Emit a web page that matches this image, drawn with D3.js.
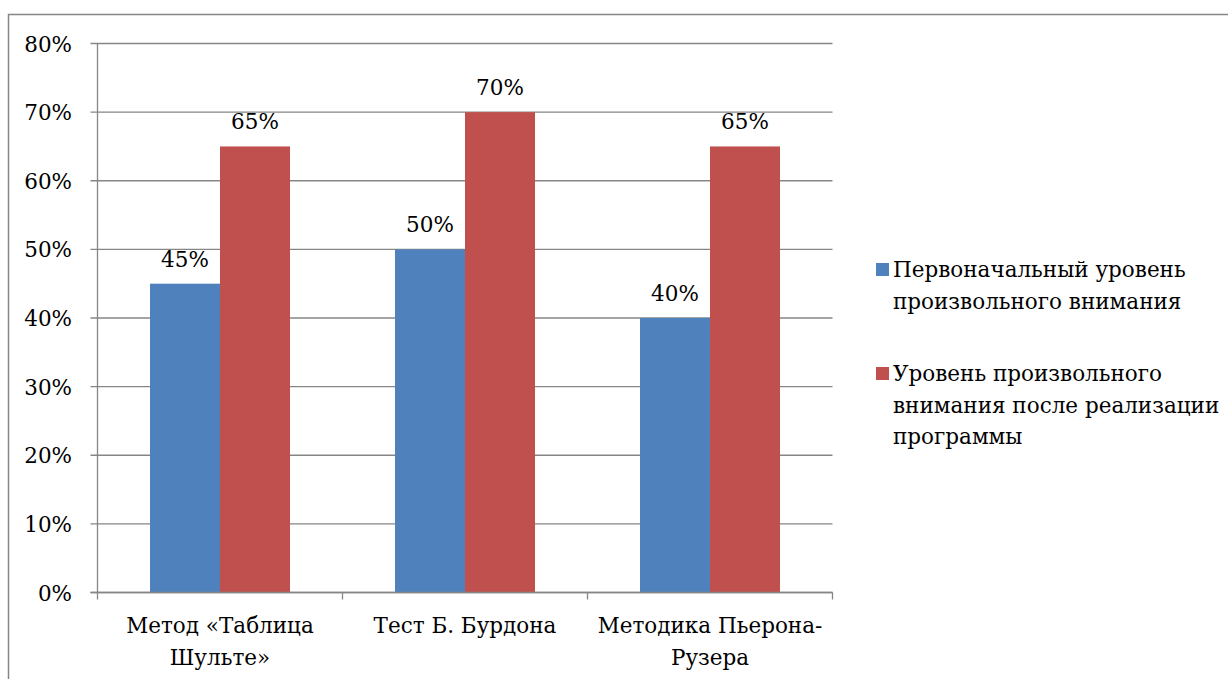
<!DOCTYPE html>
<html>
<meta charset="UTF-8">
<head>
    <script src="https://d3js.org/d3.v7.min.js"></script>
    <style>
        body { margin: 0; background: white; }
        svg text { font-family: "DejaVu Serif", serif; }
    </style>
</head>
<body>
<script>
    let categories = [["Метод «Таблица", "Шульте»"], ["Тест Б. Бурдона"], ["Методика Пьерона-", "Рузера"]];
    let seriesNames = [
        ["Первоначальный уровень", "произвольного внимания"],
        ["Уровень произвольного", "внимания после реализации", "программы"]
    ];
    let initial = [45, 50, 40];
    let after = [65, 70, 65];
    let colors = ["#4F81BD", "#C0504D"];
    let yTicks = [0, 10, 20, 30, 40, 50, 60, 70, 80];

    let width = 1228, height = 679;
    let plotLeft = 97.5, plotRight = 832.5, plotTop = 43.5, plotBottom = 592.5;
    let fontSize = "21.5px";
    let lineGap = 32;

    let svg = d3.select("body").append("svg")
        .attr("width", width)
        .attr("height", height)
        .attr("fill", "black");

    // outer frame, only the left and top edges show
    svg.append("path")
        .attr("d", `M8.5,${height} V14.5 H${width}`)
        .attr("fill", "none")
        .attr("stroke", "#868686")
        .attr("stroke-width", 1.5);

    let x = d3.scaleBand().domain(d3.range(categories.length)).range([plotLeft, plotRight]);
    let inner = d3.scaleBand().domain([0, 1]).range([0, x.bandwidth()]).paddingOuter(0.75);
    let y = d3.scaleLinear().domain([0, 80]).range([plotBottom, plotTop]);

    // gridlines
    svg.append("g")
        .selectAll("line")
        .data(yTicks)
        .join("line")
        .attr("x1", plotLeft - 7).attr("x2", plotRight)
        .attr("y1", d => y(d)).attr("y2", d => y(d))
        .attr("stroke", "#868686")
        .attr("stroke-width", 1.3);

    // y tick labels
    svg.append("g")
        .selectAll("text")
        .data(yTicks)
        .join("text")
        .attr("x", 72)
        .attr("y", d => y(d) + 8)
        .attr("text-anchor", "end")
        .style("font-size", fontSize)
        .text(d => d + "%");

    // bars
    let groups = svg.append("g")
        .selectAll("g")
        .data(categories.map((c, i) => [initial[i], after[i]]))
        .join("g")
        .attr("transform", (d, i) => `translate(${x(i)},0)`);

    groups.selectAll("rect")
        .data(d => d)
        .join("rect")
        .attr("x", (d, j) => inner(j))
        .attr("width", inner.bandwidth())
        .attr("y", d => y(d))
        .attr("height", d => y(0) - y(d))
        .attr("fill", (d, j) => colors[j]);

    groups.selectAll("text")
        .data(d => d)
        .join("text")
        .attr("x", (d, j) => inner(j) + inner.bandwidth() / 2)
        .attr("y", d => y(d) - 17)
        .attr("text-anchor", "middle")
        .style("font-size", fontSize)
        .text(d => d + "%");

    // axis lines
    svg.append("line")
        .attr("x1", plotLeft).attr("x2", plotLeft)
        .attr("y1", plotTop).attr("y2", plotBottom)
        .attr("stroke", "#868686").attr("stroke-width", 1.3);

    svg.append("line")
        .attr("x1", plotLeft - 7).attr("x2", plotRight)
        .attr("y1", plotBottom).attr("y2", plotBottom)
        .attr("stroke", "#868686").attr("stroke-width", 1.3);

    // x ticks between categories
    svg.append("g")
        .selectAll("line")
        .data(d3.range(categories.length + 1))
        .join("line")
        .attr("x1", d => plotLeft + d * x.bandwidth())
        .attr("x2", d => plotLeft + d * x.bandwidth())
        .attr("y1", plotBottom).attr("y2", plotBottom + 7)
        .attr("stroke", "#868686").attr("stroke-width", 1.3);

    // category labels
    let catLabels = svg.append("g")
        .selectAll("text")
        .data(categories)
        .join("text")
        .attr("text-anchor", "middle")
        .style("font-size", fontSize);

    catLabels.selectAll("tspan")
        .data((d, i) => d.map(line => ({line, i})))
        .join("tspan")
        .attr("x", d => x(d.i) + x.bandwidth() / 2)
        .attr("y", (d, k) => 633 + k * lineGap)
        .text(d => d.line);

    // legend
    let legendTops = [263, 367];
    let legend = svg.append("g")
        .selectAll("g")
        .data(seriesNames)
        .join("g");

    legend.append("rect")
        .attr("x", 876)
        .attr("y", (d, i) => legendTops[i])
        .attr("width", 13).attr("height", 13)
        .attr("fill", (d, i) => colors[i]);

    legend.append("text")
        .style("font-size", fontSize)
        .selectAll("tspan")
        .data((d, i) => d.map(line => ({line, i})))
        .join("tspan")
        .attr("x", 893)
        .attr("y", (d, k) => legendTops[d.i] + 14 + k * 31.5)
        .text(d => d.line);
</script>
</body>
</html>
